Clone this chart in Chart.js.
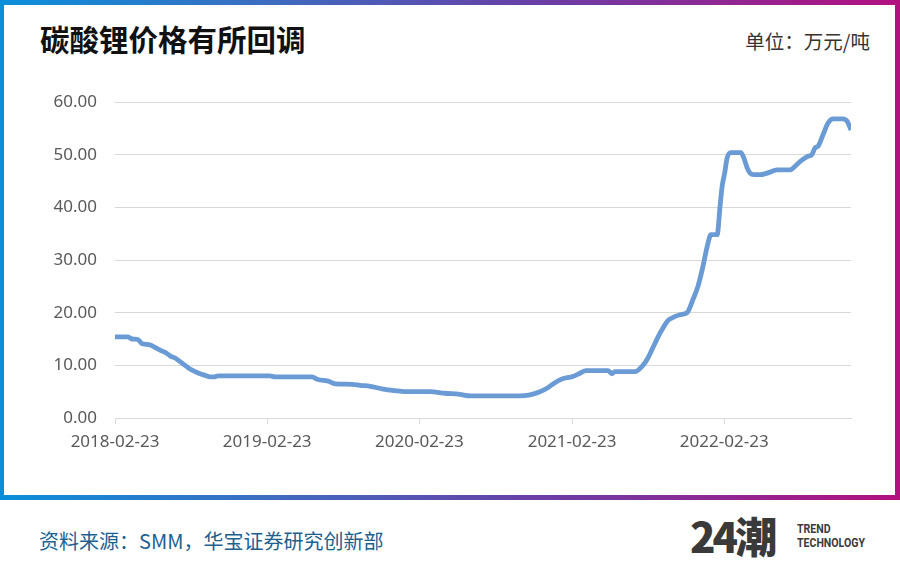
<!DOCTYPE html>
<html>
<head>
<meta charset="utf-8">
<script src="https://cdn.jsdelivr.net/npm/chart.js@4.4.1/dist/chart.umd.min.js"></script>
<style>
  html, body { margin: 0; padding: 0; background: #fff; }
  #page { position: relative; width: 900px; height: 585px; overflow: hidden; background: #fff; }
  #frame {
    position: absolute; left: 0; top: 0; width: 900px; height: 500px;
    background: linear-gradient(90deg, #0a8fda 0%, #3d6cc0 30%, #6a3ea6 60%, #b3107f 100%);
  }
  #card { position: absolute; left: 4px; top: 5px; right: 5px; bottom: 5px; background: #fff; }
  #title {
    position: absolute; left: 40px; top: 17px; white-space: nowrap;
    font: bold 29.5px "Noto Sans CJK SC", sans-serif; color: #111;
  }
  #unit {
    position: absolute; right: 30px; top: 26px; white-space: nowrap;
    font: 19.5px "Noto Sans CJK SC", sans-serif; color: #333;
  }
  #source {
    position: absolute; left: 39px; top: 526px; white-space: nowrap;
    font: 20px "Noto Sans CJK SC", sans-serif; color: #1d5f8f;
  }
  #logo { position: absolute; left: 690px; top: 510px; color: #3a3a3a; white-space: nowrap; }
  #logo .big { position: absolute; left: 0; top: -6px; font: 900 42px "Noto Sans CJK SC", sans-serif; letter-spacing: -3px; white-space: nowrap; }
  #logo .small { position: absolute; left: 107px; top: 12px; font: bold 12px "Roboto", sans-serif; line-height: 14px; transform: scaleX(0.88); transform-origin: left; white-space: nowrap; }
  #chart { position: absolute; left: 0; top: 0; }
</style>
</head>
<body>
<div id="page">
  <div id="frame"><div id="card"></div></div>
  <div id="title">碳酸锂价格有所回调</div>
  <div id="unit">单位：万元/吨</div>
  <div id="source">资料来源：SMM，华宝证券研究创新部</div>
  <div id="logo"><span class="big">24潮</span><span class="small">TREND<br>TECHNOLOGY</span></div>
  <canvas id="chart" width="900" height="585"></canvas>
</div>
<script>
// days counted from 2018-02-23
var daysSinceStart = [0, 31, 41, 55, 65, 84, 96, 113, 122, 132, 144, 156, 168, 180, 192, 204, 216, 228, 237, 247,
  372, 384, 472, 487, 511, 528, 568, 588, 612, 643, 671, 695, 755, 791, 827, 851, 971, 995, 1019, 1038,
  1055, 1072, 1096, 1115, 1129, 1182, 1192, 1199, 1247, 1264, 1278, 1295, 1307, 1326, 1336, 1355, 1372, 1386,
  1398, 1410, 1422, 1429, 1444, 1451, 1456, 1462, 1468, 1477, 1501, 1508, 1516, 1523, 1532, 1547, 1564,
  1588, 1619, 1631, 1643, 1659, 1671, 1679, 1686, 1698, 1710, 1722, 1746, 1756, 1765];
var prices = [15.4, 15.4, 15.0, 14.9, 14.1, 13.9, 13.4, 12.7, 12.4, 11.8, 11.4, 10.7, 10.0, 9.3, 8.8, 8.4, 8.1, 7.8, 7.8, 8.0,
  8.0, 7.8, 7.8, 7.3, 7.0, 6.5, 6.4, 6.2, 6.0, 5.5, 5.2, 5.0, 5.0, 4.7, 4.5, 4.2, 4.2, 4.4, 5.0, 5.75,
  6.7, 7.4, 7.85, 8.5, 9.0, 9.0, 8.4, 8.8, 8.8, 9.8, 11.4, 14.2, 16.1, 18.5, 19.0, 19.6, 20.0, 22.5,
  25.0, 28.8, 33.2, 34.8, 34.8, 40.2, 44.0, 46.5, 49.4, 50.4, 50.4, 49.4, 47.5, 46.5, 46.2, 46.2, 46.5,
  47.1, 47.1, 47.8, 48.7, 49.6, 50.0, 51.3, 51.6, 53.8, 56.0, 56.8, 56.8, 56.3, 54.7];
var tickDays = [0, 365, 730, 1096, 1461];
var tickLabels = ['2018-02-23', '2019-02-23', '2020-02-23', '2021-02-23', '2022-02-23'];

var points = daysSinceStart.map(function(d, i) { return {x: d, y: prices[i]}; });

var ctx = document.getElementById('chart').getContext('2d');
var chart = new Chart(ctx, {
  type: 'line',
  data: {
    datasets: [{
      data: points,
      borderColor: '#6a9bd4',
      borderWidth: 4.8,
      pointRadius: 0,
      cubicInterpolationMode: 'monotone',
      fill: false
    }]
  },
  options: {
    responsive: false,
    animation: false,
    layout: { padding: { left: 0, right: 49, top: 102, bottom: 0 } },
    plugins: { legend: { display: false }, tooltip: { enabled: false } },
    scales: {
      x: {
        type: 'linear',
        min: 0,
        max: 1765,
        afterBuildTicks: function(scale) {
          scale.ticks = tickDays.map(function(v) { return {value: v}; });
        },
        afterFit: function(scale) { scale.height = 167; },
        grid: { drawOnChartArea: false, drawTicks: true, tickLength: 6, color: '#d9d9d9' },
        border: { color: '#d9d9d9', width: 1 },
        ticks: {
          autoSkip: false,
          maxRotation: 0,
          padding: 8,
          color: '#595959',
          font: { family: 'Noto Sans', size: 17 },
          callback: function(value) {
            var i = tickDays.indexOf(value);
            return i >= 0 ? tickLabels[i] : '';
          }
        }
      },
      y: {
        min: 0,
        max: 60,
        afterFit: function(scale) { scale.width = 115; },
        grid: { color: '#d9d9d9', drawTicks: false },
        border: { display: false },
        ticks: {
          stepSize: 10,
          padding: 18,
          color: '#595959',
          font: { family: 'Noto Sans', size: 17 },
          callback: function(value) { return value.toFixed(2); }
        }
      }
    }
  }
});
</script>
</body>
</html>
